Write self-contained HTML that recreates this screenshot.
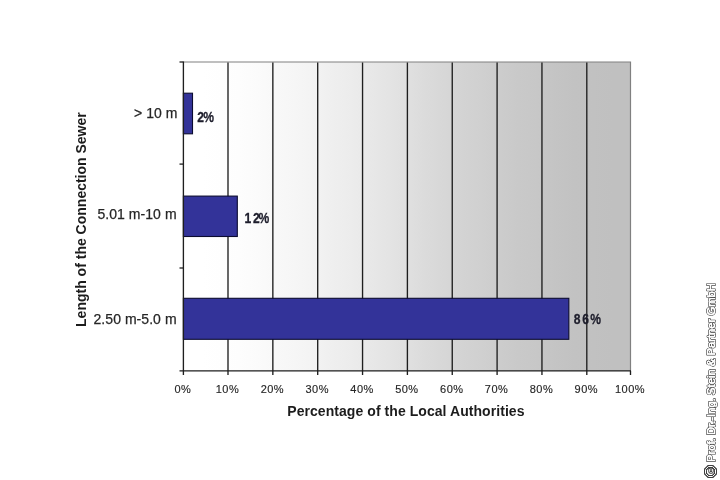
<!DOCTYPE html>
<html>
<head>
<meta charset="utf-8">
<title>Length of the Connection Sewer</title>
<style>
html,body{margin:0;padding:0;background:#fff;}
body{width:720px;height:480px;overflow:hidden;position:relative;font-family:"Liberation Sans",sans-serif;}
svg{position:absolute;left:0;top:0;display:block;}
text{font-family:"Liberation Sans",sans-serif;}
.tick{font-size:11px;fill:#262626;stroke:#262626;stroke-width:0.15px;letter-spacing:0.5px;}
.cat{font-size:14px;fill:#262626;stroke:#262626;stroke-width:0.25px;letter-spacing:0.05px;}
.dl{font-size:15.5px;font-weight:bold;fill:#1e1e2c;stroke:#1e1e2c;stroke-width:0.3px;letter-spacing:2.1px;}
.ttl{font-size:14px;font-weight:bold;fill:#1c1c1c;}
.cp{font-size:11.25px;fill:#fff;stroke:#3a3a3a;stroke-width:1.75px;stroke-linejoin:round;paint-order:stroke fill;}
.cp2{font-size:11.25px;fill:#fff;stroke:#fff;stroke-width:0.5px;}
</style>
</head>
<body>
<svg width="720" height="480" viewBox="0 0 720 480">
  <defs>
    <linearGradient id="bg" x1="0" y1="0" x2="1" y2="0">
      <stop offset="0.0000" stop-color="#ffffff"/>
      <stop offset="0.0417" stop-color="#ffffff"/>
      <stop offset="0.0833" stop-color="#fefefe"/>
      <stop offset="0.1250" stop-color="#fdfdfd"/>
      <stop offset="0.1667" stop-color="#fbfbfb"/>
      <stop offset="0.2083" stop-color="#f8f8f8"/>
      <stop offset="0.2500" stop-color="#f6f6f6"/>
      <stop offset="0.2917" stop-color="#f3f3f3"/>
      <stop offset="0.3333" stop-color="#efefef"/>
      <stop offset="0.3750" stop-color="#ececec"/>
      <stop offset="0.4167" stop-color="#e8e8e8"/>
      <stop offset="0.4583" stop-color="#e4e4e4"/>
      <stop offset="0.5000" stop-color="#e0e0e0"/>
      <stop offset="0.5417" stop-color="#dbdbdb"/>
      <stop offset="0.5833" stop-color="#d7d7d7"/>
      <stop offset="0.6250" stop-color="#d3d3d3"/>
      <stop offset="0.6667" stop-color="#d0d0d0"/>
      <stop offset="0.7083" stop-color="#cccccc"/>
      <stop offset="0.7500" stop-color="#c9c9c9"/>
      <stop offset="0.7917" stop-color="#c7c7c7"/>
      <stop offset="0.8333" stop-color="#c4c4c4"/>
      <stop offset="0.8750" stop-color="#c2c2c2"/>
      <stop offset="0.9167" stop-color="#c1c1c1"/>
      <stop offset="0.9583" stop-color="#c0c0c0"/>
      <stop offset="1.0000" stop-color="#c0c0c0"/>
    </linearGradient>
  </defs>
  <rect x="0" y="0" width="720" height="480" fill="#ffffff"/>
  <rect x="183.4" y="62.0" width="447.10" height="309.00" fill="url(#bg)"/>
  <path d="M183.4 62.0 H630.5 V371.0" fill="none" stroke="#808080" stroke-width="1.2"/>
  <g stroke="#1e1e1e" stroke-width="1.35">
    <line x1="228.00" y1="62.6" x2="228.00" y2="371.0"/>
    <line x1="272.85" y1="62.6" x2="272.85" y2="371.0"/>
    <line x1="317.70" y1="62.6" x2="317.70" y2="371.0"/>
    <line x1="362.55" y1="62.6" x2="362.55" y2="371.0"/>
    <line x1="407.40" y1="62.6" x2="407.40" y2="371.0"/>
    <line x1="452.25" y1="62.6" x2="452.25" y2="371.0"/>
    <line x1="497.10" y1="62.6" x2="497.10" y2="371.0"/>
    <line x1="541.95" y1="62.6" x2="541.95" y2="371.0"/>
    <line x1="586.80" y1="62.6" x2="586.80" y2="371.0"/>
  </g>
  <g fill="#333399" stroke="#0c0c30" stroke-width="1.1">
    <rect x="183.4" y="93.20" width="9.11" height="40.60"/>
    <rect x="183.4" y="196.10" width="53.91" height="40.40"/>
    <rect x="183.4" y="298.30" width="385.43" height="41.00"/>
  </g>
  <g stroke="#1e1e1e" stroke-width="1.35" fill="none">
    <line x1="183.4" y1="61.5" x2="183.4" y2="375.0"/>
    <line x1="179.50" y1="370.95" x2="631.0" y2="370.95" stroke-width="1.3"/>
    <line x1="179.50" y1="62.00" x2="183.4" y2="62.00" stroke-width="1.3"/>
    <line x1="179.50" y1="164.10" x2="183.4" y2="164.10" stroke-width="1.3"/>
    <line x1="179.50" y1="268.00" x2="183.4" y2="268.00" stroke-width="1.3"/>
    <line x1="228.00" y1="371.0" x2="228.00" y2="375.0"/>
    <line x1="272.85" y1="371.0" x2="272.85" y2="375.0"/>
    <line x1="317.70" y1="371.0" x2="317.70" y2="375.0"/>
    <line x1="362.55" y1="371.0" x2="362.55" y2="375.0"/>
    <line x1="407.40" y1="371.0" x2="407.40" y2="375.0"/>
    <line x1="452.25" y1="371.0" x2="452.25" y2="375.0"/>
    <line x1="497.10" y1="371.0" x2="497.10" y2="375.0"/>
    <line x1="541.95" y1="371.0" x2="541.95" y2="375.0"/>
    <line x1="586.80" y1="371.0" x2="586.80" y2="375.0"/>
    <line x1="630.50" y1="371.0" x2="630.50" y2="375.0"/>
  </g>
  <g id="txt" style="opacity:0.999">
  <text class="dl" transform="translate(197.2,122) scale(0.78,1)">2<tspan dx="-3.0">%</tspan></text>
  <text class="dl" transform="translate(244.6,223) scale(0.78,1)">12<tspan dx="-3.6">%</tspan></text>
  <text class="dl" transform="translate(573.8,323.8) scale(0.78,1)">86<tspan dx="-0.4">%</tspan></text>
  <text class="cat" x="177.5" y="117.6" text-anchor="end">&gt; 10 m</text>
  <text class="cat" x="176.6" y="219.3" text-anchor="end">5.01 m-10 m</text>
  <text class="cat" x="176.6" y="324" text-anchor="end">2.50 m-5.0 m</text>
  <g class="tick" text-anchor="middle">
    <text x="182.9" y="392.6">0%</text>
    <text x="227.5" y="392.6">10%</text>
    <text x="272.4" y="392.6">20%</text>
    <text x="317.2" y="392.6">30%</text>
    <text x="362.1" y="392.6">40%</text>
    <text x="406.9" y="392.6">50%</text>
    <text x="451.8" y="392.6">60%</text>
    <text x="496.6" y="392.6">70%</text>
    <text x="541.5" y="392.6">80%</text>
    <text x="586.3" y="392.6">90%</text>
    <text x="630.0" y="392.6">100%</text>
  </g>
  <text class="ttl" x="405.9" y="415.7" text-anchor="middle" style="letter-spacing:0.06px">Percentage of the Local Authorities</text>
  <text class="ttl" transform="translate(85.5,219.6) rotate(-90)" text-anchor="middle">Length of the Connection Sewer</text>
  <text class="cp" transform="translate(714.6,461.9) rotate(-90)">Prof. Dr.-Ing. Stein &amp; Partner GmbH</text>
  <text class="cp2" transform="translate(714.6,461.9) rotate(-90)">Prof. Dr.-Ing. Stein &amp; Partner GmbH</text>
  <g fill="none" stroke-linejoin="miter">
    <polygon points="715.50,473.57 712.57,476.50 708.43,476.50 705.50,473.57 705.50,469.43 708.43,466.50 712.57,466.50 715.50,469.43" stroke="#3e3e3e" stroke-width="3"/>
    <path d="M709.5 468.0 V471.5 Q709.5 472.5 710.5 472.5 H711.5 Q712.5 472.5 712.5 471.5 V468.0" stroke="#3e3e3e" stroke-width="2.4"/>
    <polygon points="715.50,473.57 712.57,476.50 708.43,476.50 705.50,473.57 705.50,469.43 708.43,466.50 712.57,466.50 715.50,469.43" stroke="#fff" stroke-width="1"/>
    <path d="M709.5 468.9 V471.5 Q709.5 472.5 710.5 472.5 H711.5 Q712.5 472.5 712.5 471.5 V468.9" stroke="#fff" stroke-width="0.85"/>
  </g>
  </g>
</svg>
</body>
</html>
